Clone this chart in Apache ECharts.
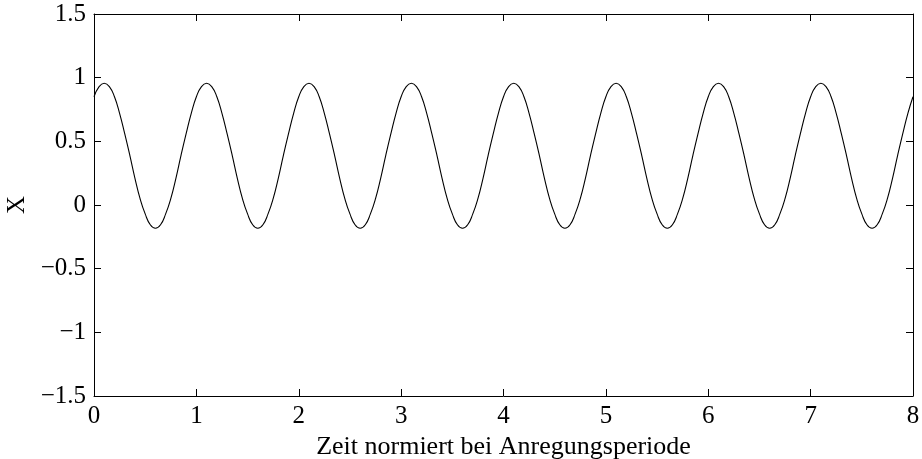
<!DOCTYPE html>
<html>
<head>
<meta charset="utf-8">
<script src="https://cdn.jsdelivr.net/npm/echarts@6/dist/echarts.min.js"></script>
<style>html,body{margin:0;padding:0;background:#fff}#c{width:922px;height:459px}</style>
</head>
<body>
<div id="c"></div>
<script>
// Sampling step of the time axis (normalised by excitation period)
const timeStep = 0.05;
// Values, one row per period (t = k .. k+0.95), last point at t = 8
const xValues = [
  0.85,0.93,0.956,0.93,0.85,0.72,0.56,0.39,0.21,0.05,-0.07,-0.155,-0.183,-0.155,-0.07,0.05,0.21,0.39,0.56,0.72,
  0.85,0.93,0.956,0.93,0.85,0.72,0.56,0.39,0.21,0.05,-0.07,-0.155,-0.183,-0.155,-0.07,0.05,0.21,0.39,0.56,0.72,
  0.85,0.93,0.956,0.93,0.85,0.72,0.56,0.39,0.21,0.05,-0.07,-0.155,-0.183,-0.155,-0.07,0.05,0.21,0.39,0.56,0.72,
  0.85,0.93,0.956,0.93,0.85,0.72,0.56,0.39,0.21,0.05,-0.07,-0.155,-0.183,-0.155,-0.07,0.05,0.21,0.39,0.56,0.72,
  0.85,0.93,0.956,0.93,0.85,0.72,0.56,0.39,0.21,0.05,-0.07,-0.155,-0.183,-0.155,-0.07,0.05,0.21,0.39,0.56,0.72,
  0.85,0.93,0.956,0.93,0.85,0.72,0.56,0.39,0.21,0.05,-0.07,-0.155,-0.183,-0.155,-0.07,0.05,0.21,0.39,0.56,0.72,
  0.85,0.93,0.956,0.93,0.85,0.72,0.56,0.39,0.21,0.05,-0.07,-0.155,-0.183,-0.155,-0.07,0.05,0.21,0.39,0.56,0.72,
  0.85,0.93,0.956,0.93,0.85,0.72,0.56,0.39,0.21,0.05,-0.07,-0.155,-0.183,-0.155,-0.07,0.05,0.21,0.39,0.56,0.72,
  0.85
];
const xTickLabels = ['0','1','2','3','4','5','6','7','8'];
const yTickLabels = {'-1.5':'\u22121.5','-1':'\u22121','-0.5':'\u22120.5','0':'0','0.5':'0.5','1':'1','1.5':'1.5'};
const xAxisTitle = 'Zeit normiert bei Anregungsperiode';
const yAxisTitle = 'X';

const seriesData = xValues.map((v, i) => [+(i * timeStep).toFixed(2), v]);
const font = 'Liberation Serif';
const fs = 25;
const chart = echarts.init(document.getElementById('c'), null, {renderer: 'canvas'});
const axisLineStyle = {color: '#000', width: 1};
chart.setOption({
  animation: false,
  backgroundColor: '#fff',
  grid: {left: 94, right: 9, top: 14, bottom: 63, containLabel: false, outerBoundsMode: 'none'},
  xAxis: [{
    type: 'value', min: 0, max: 8, interval: 1, position: 'bottom',
    axisLine: {show: true, onZero: false, lineStyle: axisLineStyle},
    axisTick: {show: true, inside: true, length: 7, lineStyle: axisLineStyle},
    splitLine: {show: false},
    axisLabel: {color: '#000', fontFamily: font, fontSize: fs, margin: 8,
      formatter: v => xTickLabels[Math.round(v)]},
    name: xAxisTitle, nameLocation: 'middle', nameGap: 36,
    nameTextStyle: {color: '#000', fontFamily: font, fontSize: 26}
  }, {
    type: 'value', min: 0, max: 8, interval: 1, position: 'top',
    axisLine: {show: true, onZero: false, lineStyle: axisLineStyle},
    axisTick: {show: true, inside: true, length: 7, lineStyle: axisLineStyle},
    axisLabel: {show: false}, splitLine: {show: false}
  }],
  yAxis: [{
    type: 'value', min: -1.5, max: 1.5, interval: 0.5, position: 'left',
    axisLine: {show: true, onZero: false, lineStyle: axisLineStyle},
    axisTick: {show: true, inside: true, length: 7, lineStyle: axisLineStyle},
    splitLine: {show: false},
    axisLabel: {color: '#000', fontFamily: font, fontSize: fs, margin: 8,
      formatter: v => yTickLabels[String(v)]},
    name: yAxisTitle, nameLocation: 'middle', nameGap: 63, nameRotate: 90,
    nameTextStyle: {color: '#000', fontFamily: font, fontSize: fs}
  }, {
    type: 'value', min: -1.5, max: 1.5, interval: 0.5, position: 'right',
    axisLine: {show: true, onZero: false, lineStyle: axisLineStyle},
    axisTick: {show: true, inside: true, length: 7, lineStyle: axisLineStyle},
    axisLabel: {show: false}, splitLine: {show: false}
  }],
  series: [{
    type: 'line', data: seriesData, smooth: true, showSymbol: false,
    lineStyle: {color: '#000', width: 1.1}, xAxisIndex: 0, yAxisIndex: 0
  }]
});
</script>
</body>
</html>
